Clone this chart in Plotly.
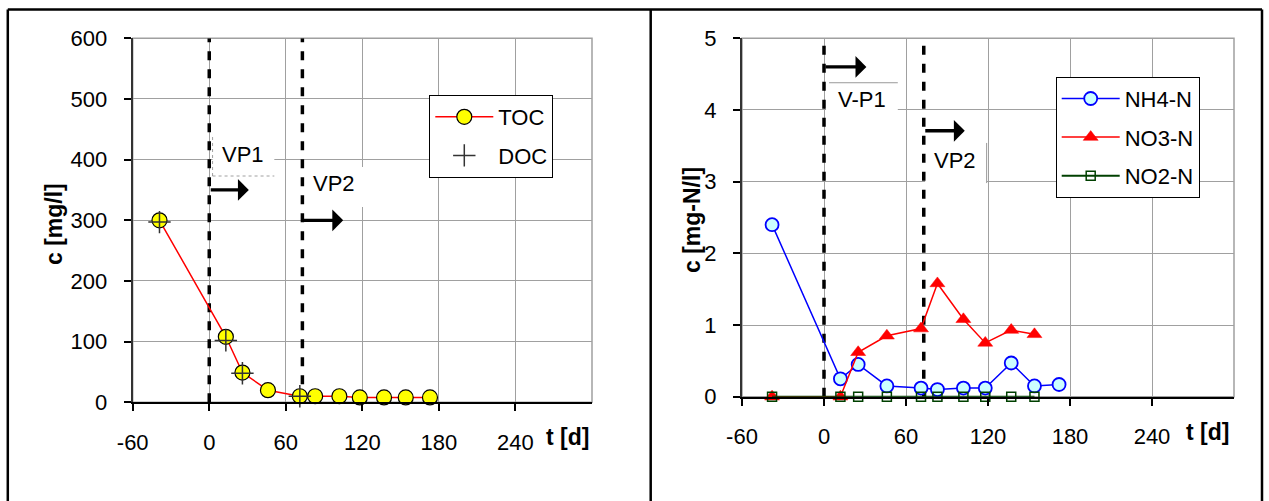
import plotly.graph_objects as go

# ---------------- data ----------------
t_days = [-39, 13, 26, 46, 71, 83, 102, 118, 137, 154, 173]
toc = [300, 108, 49, 20, 10, 10, 10, 8, 8, 8, 8]
t_doc = [-39, 13, 26, 71]
doc = [297, 102, 48, 10]

t_n = [-38, 12, 25, 46, 71, 83, 102, 118, 137, 154, 172]
nh4 = [2.40, 0.25, 0.45, 0.15, 0.12, 0.10, 0.12, 0.12, 0.47, 0.15, 0.17]
t_no3 = [-38, 12, 25, 46, 71, 83, 102, 118, 137, 154]
no3 = [0.0, 0.0, 0.62, 0.85, 0.95, 1.58, 1.08, 0.75, 0.93, 0.87]
t_no2 = [-38, 12, 25, 46, 71, 83, 102, 118, 137, 154]
no2 = [0, 0, 0, 0, 0, 0, 0, 0, 0, 0]

x_ticks = [-60, 0, 60, 120, 180, 240]
x_ticktext = ["-60", "0", "60", "120", "180", "240"]
x_range = [-60, 300]
phase_starts = [0, 73]          # VP1 / VP2 start day
left_labels = ["VP1", "VP2"]
right_labels = ["V-P1", "VP2"]

# ---------------- figure ----------------
W, H = 1269, 501
FONT = "Liberation Sans, Arial, sans-serif"


def fx(p):
    return p / W


def fy(p):
    return 1 - p / H


fig = go.Figure()

fig.add_trace(go.Scatter(
    x=t_days, y=toc, name="TOC", mode="lines+markers",
    line=dict(color="#FF0000", width=1.5),
    marker=dict(symbol="circle", size=15, color="#FFFF00",
                line=dict(color="#000000", width=1.2)),
    xaxis="x", yaxis="y", legend="legend", legendgroup="g1", cliponaxis=False))
fig.add_trace(go.Scatter(
    x=t_doc, y=doc, name="DOC", mode="markers",
    marker=dict(symbol="cross-thin", size=16, color="#333333",
                line=dict(color="#333333", width=1.5)),
    xaxis="x", yaxis="y", legend="legend", legendgroup="g2", cliponaxis=False))

fig.add_trace(go.Scatter(
    x=t_n, y=nh4, name="NH4-N", mode="lines+markers",
    line=dict(color="#0000FF", width=1.5),
    marker=dict(symbol="circle", size=13, color="#CCFFFF",
                line=dict(color="#0000FF", width=1.8)),
    xaxis="x2", yaxis="y2", legend="legend2", legendgroup="g3", cliponaxis=False))
fig.add_trace(go.Scatter(
    x=t_no3, y=no3, name="NO3-N", mode="lines+markers",
    line=dict(color="#FF0000", width=1.5),
    marker=dict(symbol="triangle-up", size=13, color="#FF0000",
                line=dict(color="#FF0000", width=0.5)),
    xaxis="x2", yaxis="y2", legend="legend2", legendgroup="g4", cliponaxis=False))
fig.add_trace(go.Scatter(
    x=t_no2, y=no2, name="NO2-N", mode="lines+markers",
    line=dict(color="#004000", width=2),
    marker=dict(symbol="square-open", size=9, color="#004000",
                line=dict(color="#004000", width=1.5)),
    xaxis="x2", yaxis="y2", legend="legend2", legendgroup="g5", cliponaxis=False))

axis_common = dict(
    ticks="outside", ticklen=7, tickwidth=1.5, tickcolor="#000000",
    showline=True, linewidth=2, showgrid=True, gridcolor="#a0a0a0",
    gridwidth=1, zeroline=False, tickfont=dict(family=FONT, size=22, color="#000000"),
    ticklabelstandoff=12, automargin=False,
)

legend_common = dict(xanchor="left", yanchor="top", bgcolor="#FFFFFF",
                     bordercolor="#000000", borderwidth=1,
                     font=dict(family=FONT, size=22), traceorder="grouped",
                     tracegroupgap=7, itemwidth=58)

fig.update_layout(
    width=W, height=H,
    margin=dict(l=0, r=0, t=0, b=0, pad=0, autoexpand=False),
    paper_bgcolor="#FFFFFF", plot_bgcolor="#FFFFFF",
    font=dict(family=FONT, size=22, color="#000000"),
    xaxis=dict(domain=[fx(132.7), fx(592)], range=x_range, tickvals=x_ticks,
               ticktext=x_ticktext, linecolor="#000000", anchor="y", **axis_common),
    yaxis=dict(domain=[fy(402.3), fy(38.3)], range=[0, 600], dtick=100,
               linecolor="#333333", anchor="x", **axis_common),
    xaxis2=dict(domain=[fx(742), fx(1234)], range=x_range, tickvals=x_ticks,
                ticktext=x_ticktext, linecolor="#000000", anchor="y2", **axis_common),
    yaxis2=dict(domain=[fy(396.7), fy(38.3)], range=[0, 5], dtick=1,
                linecolor="#333333", anchor="x2", **axis_common),
    legend=dict(x=fx(429.3), y=fy(95), **legend_common),
    legend2=dict(x=fx(1055.7), y=fy(76.7), **legend_common),
    showlegend=True,
)

shapes = []
# plot area frames
for xr, yr in (("x domain", "y domain"), ("x2 domain", "y2 domain")):
    shapes.append(dict(type="rect", xref=xr, yref=yr, x0=0, x1=1, y0=0, y1=1,
                       line=dict(color="#a0a0a0", width=1.5), layer="below"))

# white label boxes (over grid, under traces)
white = dict(type="rect", fillcolor="#FFFFFF", line=dict(width=0), layer="between")
shapes.append(dict(white, xref="x", yref="y", x0=2.6, x1=51, y0=373, y1=438))
shapes.append(dict(white, xref="x", yref="y", x0=74, x1=122, y0=322, y1=388))
shapes.append(dict(white, xref="x2", yref="y2", x0=1.5, x1=54, y0=3.97, y1=4.38))
shapes.append(dict(white, xref="x2", yref="y2", x0=74, x1=119.3, y0=2.98, y1=3.54))
# thin box edges
thin = dict(type="line", line=dict(color="#888888", width=0.8, dash="dot"), layer="between")
shapes.append(dict(thin, xref="x", yref="y", x0=2.6, x1=2.6, y0=373, y1=438))
shapes.append(dict(thin, xref="x", yref="y", x0=2.6, x1=51, y0=373, y1=373))
thin2 = dict(type="line", line=dict(color="#999999", width=1), layer="between")
shapes.append(dict(thin2, xref="x2", yref="y2", x0=3.7, x1=54, y0=4.38, y1=4.38))
shapes.append(dict(thin2, xref="x2", yref="y2", x0=119, x1=119, y0=2.98, y1=3.54))

# dashed phase lines
for xv in phase_starts:
    shapes.append(dict(type="line", xref="x", yref="y", x0=xv, x1=xv, y0=0, y1=600,
                       line=dict(color="#000000", width=3.5, dash="9px,9px"), layer="between"))
    shapes.append(dict(type="line", xref="x2", yref="y2", x0=xv, x1=xv, y0=0, y1=5,
                       line=dict(color="#000000", width=3.5, dash="9px,9px"), layer="between"))

# outer frame
frame = dict(type="line", xref="paper", yref="paper", line=dict(color="#000000", width=2.5))
shapes.append(dict(frame, x0=fx(7.8), x1=fx(1262), y0=fy(9.5), y1=fy(9.5)))
for xp in (7.8, 650.7, 1262):
    shapes.append(dict(frame, x0=fx(xp), x1=fx(xp), y0=fy(9.5), y1=-0.05))

fig.update_layout(shapes=shapes)

ann = []
# axis titles
ann.append(dict(text="<b>c [mg/l]</b>", xref="paper", yref="paper", x=fx(54), y=fy(224),
                textangle=-90, showarrow=False, xanchor="center", yanchor="middle",
                font=dict(family=FONT, size=23)))
ann.append(dict(text="<b>c [mg-N/l]</b>", xref="paper", yref="paper", x=fx(692), y=fy(220),
                textangle=-90, showarrow=False, xanchor="center", yanchor="middle",
                font=dict(family=FONT, size=23)))
ann.append(dict(text="<b>t [d]</b>", xref="paper", yref="paper", x=fx(591), y=fy(436.5),
                showarrow=False, xanchor="right", yanchor="middle",
                font=dict(family=FONT, size=23)))
ann.append(dict(text="<b>t [d]</b>", xref="paper", yref="paper", x=fx(1231), y=fy(431.5),
                showarrow=False, xanchor="right", yanchor="middle",
                font=dict(family=FONT, size=23)))

# phase labels
ann.append(dict(text=left_labels[0], xref="x", yref="y", x=26.7, y=408, showarrow=False,
                font=dict(family=FONT, size=22)))
ann.append(dict(text=left_labels[1], xref="x", yref="y", x=98, y=361, showarrow=False,
                font=dict(family=FONT, size=22)))
ann.append(dict(text=right_labels[0], xref="x2", yref="y2", x=27.8, y=4.15, showarrow=False,
                font=dict(family=FONT, size=22)))
ann.append(dict(text=right_labels[1], xref="x2", yref="y2", x=95.9, y=3.29, showarrow=False,
                font=dict(family=FONT, size=22)))

# arrows
arrow = dict(text="", showarrow=True, arrowhead=1, arrowsize=1.1, arrowwidth=3.3,
             arrowcolor="#000000", standoff=0, startstandoff=0)
ann.append(dict(arrow, xref="x", yref="y", axref="x", ayref="y",
                x=31, y=350, ax=phase_starts[0], ay=350))
ann.append(dict(arrow, xref="x", yref="y", axref="x", ayref="y",
                x=105, y=300, ax=phase_starts[1], ay=300))
ann.append(dict(arrow, xref="x2", yref="y2", axref="x2", ayref="y2",
                x=31, y=4.6, ax=phase_starts[0], ay=4.6))
ann.append(dict(arrow, xref="x2", yref="y2", axref="x2", ayref="y2",
                x=103, y=3.71, ax=phase_starts[1], ay=3.71))

fig.update_layout(annotations=ann)

fig.write_html("out.html")
